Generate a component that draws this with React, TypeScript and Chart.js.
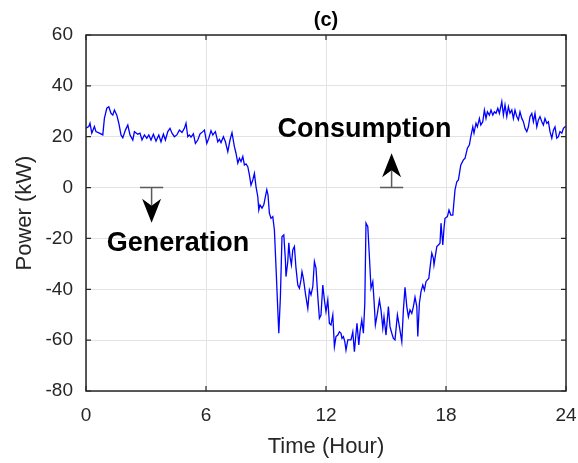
import React, { useEffect, useRef } from "react";
import { Chart, registerables } from "chart.js";

Chart.register(...registerables);

// ---- Data ----
const hours = [
  0.0, 0.14, 0.2, 0.29, 0.42, 0.5, 0.67, 0.84, 0.92, 1.04, 1.14, 1.25, 1.34, 1.42, 1.54, 1.64, 1.75, 1.84, 1.97, 2.09,
  2.2, 2.34, 2.42, 2.59, 2.7, 2.8, 2.92, 3.04, 3.14, 3.25, 3.37, 3.5, 3.64, 3.75, 3.87, 3.97, 4.09, 4.2, 4.3, 4.42,
  4.54, 4.67, 4.8, 4.92, 5.0, 5.09, 5.17, 5.25, 5.37, 5.47, 5.59, 5.7, 5.84, 5.92, 6.04, 6.14, 6.25, 6.34, 6.47, 6.59,
  6.67, 6.75, 6.87, 6.97, 7.09, 7.2, 7.3, 7.42, 7.5, 7.59, 7.67, 7.75, 7.84, 7.92, 8.0, 8.09, 8.17, 8.25, 8.34, 8.42,
  8.5, 8.59, 8.64, 8.7, 8.8, 8.89, 8.97, 9.04, 9.1, 9.17, 9.25, 9.34, 9.42, 9.5, 9.59, 9.64, 9.72, 9.8, 9.89, 9.97,
  10.0, 10.09, 10.14, 10.2, 10.27, 10.34, 10.42, 10.5, 10.59, 10.67, 10.75, 10.8, 10.87, 10.97, 11.09, 11.17, 11.25, 11.34, 11.42, 11.5,
  11.59, 11.67, 11.75, 11.84, 11.92, 12.0, 12.09, 12.17, 12.25, 12.34, 12.42, 12.5, 12.59, 12.67, 12.75, 12.8, 12.87, 12.94, 13.0, 13.09,
  13.17, 13.25, 13.34, 13.42, 13.5, 13.55, 13.64, 13.7, 13.79, 13.87, 13.94, 14.0, 14.09, 14.17, 14.25, 14.34, 14.4, 14.47, 14.57, 14.67,
  14.75, 14.84, 14.9, 15.0, 15.12, 15.2, 15.29, 15.37, 15.45, 15.57, 15.67, 15.79, 15.87, 15.95, 16.04, 16.12, 16.2, 16.29, 16.37, 16.45,
  16.54, 16.59, 16.67, 16.75, 16.84, 16.92, 17.0, 17.07, 17.14, 17.2, 17.29, 17.37, 17.4, 17.54, 17.62, 17.7, 17.75, 17.84, 17.9, 17.95,
  18.07, 18.15, 18.24, 18.34, 18.45, 18.54, 18.62, 18.74, 18.87, 18.95, 19.07, 19.17, 19.24, 19.34, 19.4, 19.5, 19.57, 19.67, 19.74, 19.84,
  19.92, 20.0, 20.07, 20.17, 20.25, 20.34, 20.42, 20.5, 20.59, 20.67, 20.79, 20.87, 20.95, 21.04, 21.12, 21.2, 21.29, 21.37, 21.45, 21.54,
  21.62, 21.7, 21.79, 21.87, 21.95, 22.04, 22.12, 22.2, 22.29, 22.37, 22.45, 22.54, 22.62, 22.7, 22.79, 22.87, 22.95, 23.04, 23.12, 23.2,
  23.29, 23.37, 23.45, 23.54, 23.62, 23.7, 23.79, 23.87, 23.95, 24.0,
];

const power = [
  23.4, 24, 25.3, 21.4, 24, 22, 21.4, 20.7, 27.2, 31.2, 31.8, 29.2, 28.5, 30.5, 28.5, 25.3, 20.7, 19.6, 22.6, 24.6,
  20.7, 18.7, 22, 21, 21.4, 18.7, 20.7, 19.4, 20.7, 18.7, 21, 18.3, 20.7, 18, 21, 18.7, 22, 23.3, 21.4, 20,
  20.7, 22.6, 21.7, 23.3, 25.3, 20, 20.7, 19.8, 21.1, 17.4, 18.7, 21.1, 22, 22.6, 17.4, 19.4, 22.4, 20.7, 22, 18,
  19, 17.7, 20, 18, 14.1, 18.7, 21.6, 16.1, 13.5, 9.6, 11.5, 10.2, 12.2, 8.9, 9.3, 8.2, 5, 1, 3, 5.6,
  0.4, -3.6, -8.8, -6.8, -8.1, -6.8, -3.6, -0.9, -2.9, -10.1, -12.1, -11.4, -16.7, -31.1, -48.1, -57.3, -42.9, -19.3, -18.6, -28.5,
  -35, -29.1, -21.7, -27.2, -30.4, -24.5, -23.2, -31.7, -38.3, -39.6, -36.3, -33.1, -35.7, -41.6, -47.5, -40.3, -42.2, -39, -29.1, -31.7,
  -42.9, -51.4, -50.1, -38.3, -44.2, -48.8, -44.2, -53.4, -54, -50.1, -62.6, -58.6, -58, -56.7, -57.3, -59.3, -58.6, -60.6, -63.9, -59.9,
  -59.9, -59.9, -56.7, -64.5, -57.3, -53.4, -61.9, -56.7, -52.1, -57.3, -45.5, -14, -15.4, -27.2, -39.6, -37, -44.2, -54, -49.5, -44.2,
  -48.1, -55.3, -50.8, -58, -46.8, -54.7, -57.3, -59.3, -59.9, -50.1, -54.7, -60.6, -48.1, -39.2, -46.8, -50.8, -48.1, -49.5, -46.8, -43.1,
  -46.8, -58.6, -45.5, -40.9, -38.3, -40.3, -37, -36.3, -35.7, -31.7, -25.8, -27.8, -30.4, -23.2, -22.6, -21.9, -14, -22.6, -16, -12.1,
  -11.4, -8.8, -10.8, -10.8, -0.9, 2.3, 3, 8.9, 10.9, 11.5, 15.5, 16.8, 20, 23.9, 21.4, 25.3, 23.9, 27.2, 24.6, 25.9,
  30.5, 27.2, 29.8, 28.5, 30.5, 28.5, 29.8, 29.2, 31.2, 29.2, 33.8, 28.5, 32.5, 27.9, 31.8, 29.2, 30.5, 27.2, 30.5, 27.9,
  26.6, 29.8, 27.2, 25.9, 23.3, 22, 23.9, 27.9, 29.2, 25.9, 29.2, 23.9, 26.6, 27.9, 25.9, 24.6, 27.2, 25.3, 25.9, 22,
  19.4, 22.6, 23.9, 19.4, 20, 22, 21.4, 23.3, 23.9, 24,
];

const xTickValues = [0, 6, 12, 18, 24];
const yTickValues = [-80, -60, -40, -20, 0, 20, 40, 60];
const titleText = "(c)";
const xAxisLabel = "Time (Hour)";
const yAxisLabel = "Power (kW)";

// annotation labels: [text, x (hour), y (kW)]
const labelTexts = ["Consumption", "Generation"];
const labelX = [13.93, 4.6];
const labelY = [23.0, -22.2];

// arrows: x (hour), start y, tip y, half-width of base bar (hours)
const arrowX = [3.28, 15.28];
const arrowFromY = [0, 0];
const arrowToY = [-13.8, 13.5];
const arrowBarHalf = [0.58, 0.58];

const FONT = "'Liberation Sans', Arial, Helvetica, sans-serif";
const TEXT = "#262626";

const overlayPlugin = {
  id: "overlay",
  afterDatasetsDraw(chart: any) {
    const { ctx, chartArea: a, scales } = chart;
    const xs = scales.x;
    const ys = scales.y;
    ctx.save();

    // frame
    ctx.strokeStyle = TEXT;
    ctx.lineWidth = 1.5;
    ctx.strokeRect(a.left, a.top, a.right - a.left, a.bottom - a.top);

    // inward ticks
    const tl = 5;
    ctx.lineWidth = 1.2;
    ctx.beginPath();
    xTickValues.forEach((v) => {
      const px = xs.getPixelForValue(v);
      ctx.moveTo(px, a.bottom);
      ctx.lineTo(px, a.bottom - tl);
      ctx.moveTo(px, a.top);
      ctx.lineTo(px, a.top + tl);
    });
    yTickValues.forEach((v) => {
      const py = ys.getPixelForValue(v);
      ctx.moveTo(a.left, py);
      ctx.lineTo(a.left + tl, py);
      ctx.moveTo(a.right, py);
      ctx.lineTo(a.right - tl, py);
    });
    ctx.stroke();

    // title
    ctx.fillStyle = "#000";
    ctx.font = `bold 20px ${FONT}`;
    ctx.textAlign = "center";
    ctx.textBaseline = "middle";
    ctx.fillText(titleText, (a.left + a.right) / 2, 20);

    // annotation texts
    ctx.font = `bold 27px ${FONT}`;
    labelTexts.forEach((t, i) => {
      ctx.fillText(t, xs.getPixelForValue(labelX[i]), ys.getPixelForValue(labelY[i]));
    });

    // arrows
    arrowX.forEach((xv, i) => {
      const px = xs.getPixelForValue(xv);
      const y0 = ys.getPixelForValue(arrowFromY[i]);
      const y1 = ys.getPixelForValue(arrowToY[i]);
      const dir = y1 > y0 ? 1 : -1;
      const headLen = 24;
      const headHalf = 9.5;
      const notch = 7;
      const xl = xs.getPixelForValue(xv - arrowBarHalf[i]);
      const xr = xs.getPixelForValue(xv + arrowBarHalf[i]);
      ctx.strokeStyle = "#5a5a5a";
      ctx.lineWidth = 1.5;
      ctx.beginPath();
      ctx.moveTo(xl, y0);
      ctx.lineTo(xr, y0);
      ctx.moveTo(px, y0);
      ctx.lineTo(px, y1 - dir * (headLen - notch));
      ctx.stroke();
      const yb = y1 - dir * headLen;
      ctx.fillStyle = "#000";
      ctx.beginPath();
      ctx.moveTo(px, y1);
      ctx.lineTo(px - headHalf, yb);
      ctx.lineTo(px, yb + dir * notch);
      ctx.lineTo(px + headHalf, yb);
      ctx.closePath();
      ctx.fill();
    });

    ctx.restore();
  },
};

export default function App() {
  const ref = useRef<HTMLCanvasElement>(null);

  useEffect(() => {
    document.body.style.margin = "0";
    const canvas = ref.current!;
    const data = hours.map((h, i) => ({ x: h, y: power[i] }));
    const chart = new Chart(canvas, {
      type: "line",
      data: {
        datasets: [
          {
            data,
            borderColor: "#0000ff",
            borderWidth: 1.3,
            pointRadius: 0,
            tension: 0,
            fill: false,
          },
        ],
      },
      options: {
        animation: false,
        responsive: false,
        maintainAspectRatio: false,
        layout: { padding: { top: 35, right: 12, bottom: 0, left: 0 } },
        plugins: {
          legend: { display: false },
          tooltip: { enabled: false },
          title: { display: false },
        },
        scales: {
          x: {
            type: "linear",
            min: 0,
            max: 24,
            afterFit: (s: any) => {
              s.height = 72;
              s.paddingLeft = 0;
              s.paddingRight = 0;
            },
            afterBuildTicks: (s: any) => {
              s.ticks = xTickValues.map((v) => ({ value: v }));
            },
            border: { display: false },
            grid: { color: "#e3e3e3", lineWidth: 1, drawTicks: false },
            ticks: {
              color: TEXT,
              padding: 13,
              font: { family: FONT, size: 19 },
              maxRotation: 0,
            },
            title: {
              display: true,
              text: xAxisLabel,
              color: TEXT,
              font: { family: FONT, size: 22 },
              padding: { top: 0, bottom: 3 },
            },
          },
          y: {
            type: "linear",
            min: -80,
            max: 60,
            afterFit: (s: any) => {
              s.width = 86;
              s.paddingTop = 0;
              s.paddingBottom = 0;
            },
            afterBuildTicks: (s: any) => {
              s.ticks = yTickValues.map((v) => ({ value: v }));
            },
            border: { display: false },
            grid: { color: "#e3e3e3", lineWidth: 1, drawTicks: false },
            ticks: {
              color: TEXT,
              padding: 13,
              font: { family: FONT, size: 19 },
            },
            title: {
              display: true,
              text: yAxisLabel,
              color: TEXT,
              font: { family: FONT, size: 22 },
              padding: { top: 12, bottom: 0 },
            },
          },
        },
      },
      plugins: [overlayPlugin],
    });
    return () => chart.destroy();
  }, []);

  return (
    <div style={{ width: 578, height: 463, background: "#fff" }}>
      <canvas ref={ref} width={578} height={463} style={{ display: "block" }} />
    </div>
  );
}
